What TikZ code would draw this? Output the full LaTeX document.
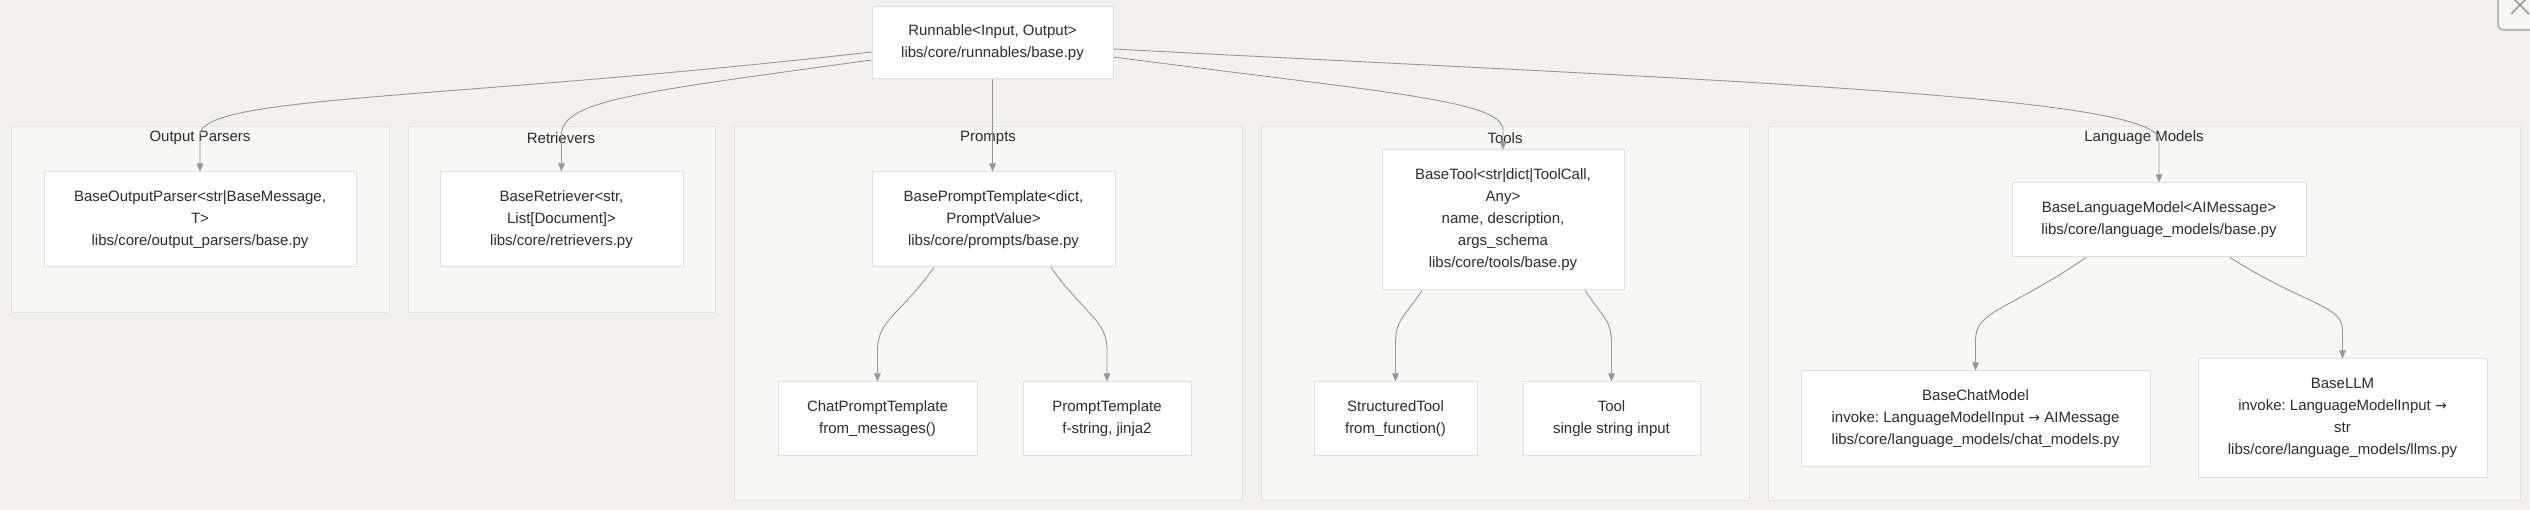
\documentclass[tikz,border=0pt]{standalone}
\usepackage{fontspec}
\setmainfont{Liberation Sans}
\newfontfamily\arrfont{DejaVu Sans}
\usetikzlibrary{arrows.meta}
\frenchspacing
\definecolor{bgc}{RGB}{242,241,239}
\definecolor{clfill}{RGB}{247,247,246}
\definecolor{clline}{RGB}{226,226,226}
\definecolor{ndline}{RGB}{222,222,222}
\definecolor{txt}{RGB}{45,45,45}
\definecolor{edgec}{RGB}{150,150,150}
\newcommand{\rarr}{{\arrfont\fontsize{14}{22}\selectfont →}}
\tikzset{
  cluster/.style={draw=clline, fill=clfill, line width=1pt},
  cltitle/.style={text=txt, font=\fontsize{15}{22}\selectfont, inner sep=0pt},
  box/.style={draw=ndline, fill=white, line width=1pt, text=txt, align=center,
    font=\fontsize{15}{22}\selectfont\frenchspacing, inner sep=0pt},
  conn/.style={draw=edgec, line width=0.9pt, -{Triangle[length=8pt,width=6.5pt]}},
}
\begin{document}
\begin{tikzpicture}[x=1pt,y=-1pt]
\useasboundingbox (0,0) rectangle (2530,510);
\fill[bgc] (0,0) rectangle (2530,510);
% close button chrome
\begin{scope}
\clip (0,0) rectangle (2530,510);
\draw[draw=gray!55, line width=2pt, rounded corners=6pt, fill=bgc!60!white] (2498,-12) rectangle (2548,30);
\draw[gray!80, line width=1.6pt] (2511,14) -- (2529,-4) (2511,-4) -- (2529,14);
\end{scope}
% clusters
\draw[cluster] (11,127) rectangle (389,313);
\draw[cluster] (408,127) rectangle (715,313);
\draw[cluster] (734,127) rectangle (1242,500);
\draw[cluster] (1261,127) rectangle (1749,500);
\draw[cluster] (1768,127) rectangle (2520,500);
\node[cltitle] (tOP) at (200,138) {Output Parsers};
\node[cltitle] (tRet) at (561,138) {Retrievers};
\node[cltitle] (tPr) at (988,138) {Prompts};
\node[cltitle] (tTo) at (1505,138) {Tools};
\node[cltitle] (tLM) at (2144,138) {Language Models};
% nodes
\node[box, minimum width=241, minimum height=72] (run) at (992.5,43) {Runnable<Input, Output>\\libs/core/runnables/base.py};
\node[box, minimum width=312, minimum height=95] (bop) at (200,219.5) {BaseOutputParser<str|BaseMessage,\\T>\\libs/core/output\_parsers/base.py};
\node[box, minimum width=243, minimum height=95] (bret) at (561.5,219.5) {BaseRetriever<str,\\List[Document]>\\libs/core/retrievers.py};
\node[box, minimum width=243, minimum height=95] (bpt) at (993.5,219.5) {BasePromptTemplate<dict,\\PromptValue>\\libs/core/prompts/base.py};
\node[box, minimum width=242, minimum height=140] (btool) at (1503,220) {BaseTool<str|dict|ToolCall,\\Any>\\name, description,\\args\_schema\\libs/core/tools/base.py};
\node[box, minimum width=294, minimum height=74] (blm) at (2159,220) {BaseLanguageModel<AIMessage>\\libs/core/language\_models/base.py};
\node[box, minimum width=199, minimum height=73] (cpt) at (877.5,418.5) {ChatPromptTemplate\\from\_messages()};
\node[box, minimum width=168, minimum height=73] (pt) at (1107,418.5) {PromptTemplate\\f-string, jinja2};
\node[box, minimum width=163, minimum height=73] (st) at (1395.5,418.5) {StructuredTool\\from\_function()};
\node[box, minimum width=177, minimum height=73] (tool) at (1611.5,418.5) {Tool\\single string input};
\node[box, minimum width=349, minimum height=95] (bcm) at (1975.5,418.5) {BaseChatModel\\invoke: LanguageModelInput \rarr{} AIMessage\\libs/core/language\_models/chat\_models.py};
\node[box, minimum width=289, minimum height=118] (bllm) at (2342.5,418) {BaseLLM\\invoke: LanguageModelInput \rarr\\str\\libs/core/language\_models/llms.py};
% connectors from Runnable
\draw[conn] ([yshift=-9pt]run.west) .. controls (450,100) and (200,95) .. (200,135) -- (bop.north);
\draw[conn] ([yshift=-17pt]run.west) .. controls (640,92) and (561.5,100) .. (561.5,135) -- (bret.north);
\draw[conn] (run.south) -- (run.south |- bpt.north);
\draw[conn] ([yshift=-14pt]run.east) .. controls (1380,92) and (1503,100) .. (1503,130) -- (btool.north);
\draw[conn] ([yshift=-6pt]run.east) .. controls (1700,80) and (2159,95) .. (2159,140) -- (blm.north);
% inner connectors
\draw[conn] ([xshift=-59.5pt]bpt.south) .. controls (900,315) and (877.5,320) .. (877.5,350) -- (cpt.north);
\draw[conn] ([xshift=57.5pt]bpt.south) .. controls (1085,315) and (1107,320) .. (1107,350) -- (pt.north);
\draw[conn] ([xshift=-81pt]btool.south) .. controls (1402,320) and (1395.5,320) .. (1395.5,345) -- (st.north);
\draw[conn] ([xshift=82pt]btool.south) .. controls (1605,320) and (1611.5,320) .. (1611.5,345) -- (tool.north);
\draw[conn] ([xshift=-73pt]blm.south) .. controls (2010,310) and (1975.5,310) .. (1975.5,340) -- (bcm.north);
\draw[conn] ([xshift=71pt]blm.south) .. controls (2305,305) and (2342.5,305) .. (2342.5,330) -- (bllm.north);
\end{tikzpicture}
\end{document}
